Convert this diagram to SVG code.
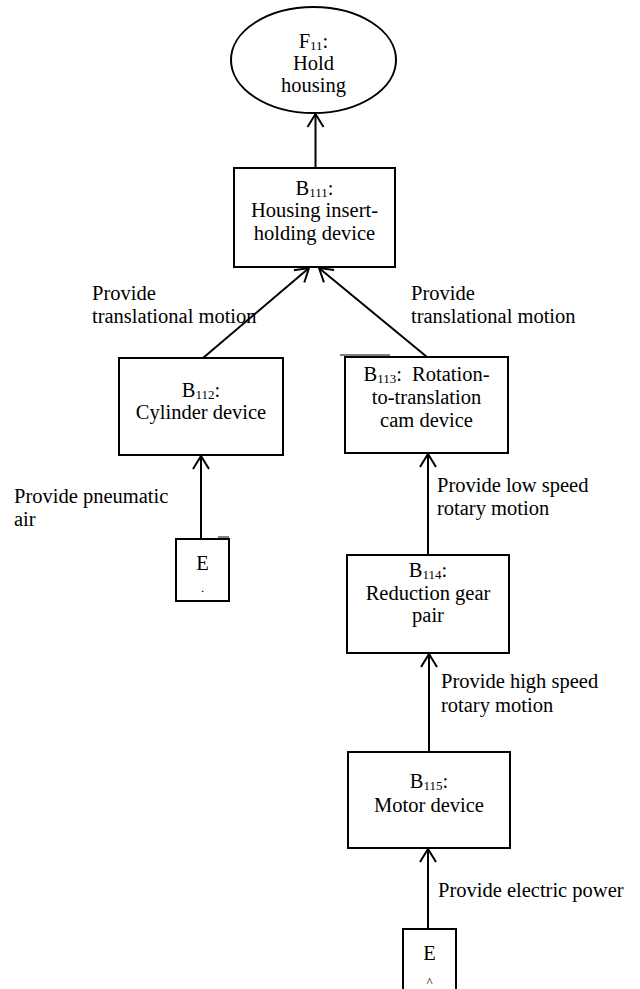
<svg xmlns="http://www.w3.org/2000/svg" width="640" height="989" viewBox="0 0 640 989" font-family="Liberation Serif, Times New Roman, DejaVu Serif, serif">
<defs>
<style>
text{font-family:'Liberation Serif','Times New Roman','DejaVu Serif',serif;font-size:20.5px;fill:#000}
.c{text-anchor:middle}
.s{font-size:13px}
.box{fill:#fff;stroke:#000;stroke-width:2}
.conn{stroke:#000;stroke-width:2;fill:none}
.art{stroke:#000;stroke-width:1;fill:none}
</style>
<marker id="ah" viewBox="-16 -10 18 20" refX="0" refY="0" markerWidth="18" markerHeight="20" markerUnits="userSpaceOnUse" orient="auto">
<path d="M-13,-8 L0,0 L-13,8" fill="none" stroke="#000" stroke-width="2" stroke-linejoin="round"/>
</marker>
</defs>
<rect width="640" height="989" fill="#fff"/>

<g id="connectors">
<line class="conn" x1="315.5" y1="168" x2="315.5" y2="114" marker-end="url(#ah)"/>
<line class="conn" x1="203" y1="358" x2="309" y2="268" marker-end="url(#ah)"/>
<line class="conn" x1="427" y1="357" x2="319" y2="268" marker-end="url(#ah)"/>
<line class="conn" x1="201" y1="539" x2="201" y2="456" marker-end="url(#ah)"/>
<line class="conn" x1="428" y1="555" x2="428" y2="454" marker-end="url(#ah)"/>
<line class="conn" x1="429" y1="752" x2="429" y2="654" marker-end="url(#ah)"/>
<line class="conn" x1="428" y1="929" x2="428" y2="849" marker-end="url(#ah)"/>
</g>

<g id="F11">
<ellipse class="box" cx="313.5" cy="60" rx="82.5" ry="53"/>
<text class="c" x="313.5" y="48">F<tspan class="s" dy="2">11</tspan><tspan dy="-2">:</tspan></text>
<text class="c" x="313.5" y="70">Hold</text>
<text class="c" x="313.5" y="92">housing</text>
</g>

<g id="B111">
<rect class="box" x="234" y="168" width="161" height="99"/>
<text class="c" x="314.5" y="195">B<tspan class="s" dy="2">111</tspan><tspan dy="-2">:</tspan></text>
<text class="c" x="314.5" y="217">Housing insert-</text>
<text class="c" x="314.5" y="240">holding device</text>
</g>

<g id="B112">
<rect class="box" x="119" y="358" width="164" height="97"/>
<text class="c" x="201" y="397">B<tspan class="s" dy="2">112</tspan><tspan dy="-2">:</tspan></text>
<text class="c" x="201" y="419">Cylinder device</text>
</g>

<g id="B113">
<line class="art" x1="340" y1="355" x2="390" y2="355"/>
<rect class="box" x="345" y="357" width="163" height="96"/>
<text class="c" x="426.5" y="381" xml:space="preserve">B<tspan class="s" dy="2">113</tspan><tspan dy="-2">:  Rotation-</tspan></text>
<text class="c" x="426.5" y="404">to-translation</text>
<text class="c" x="426.5" y="427">cam device</text>
</g>

<g id="B114">
<rect class="box" x="347" y="555" width="162" height="98"/>
<text class="c" x="428" y="577">B<tspan class="s" dy="2">114</tspan><tspan dy="-2">:</tspan></text>
<text class="c" x="428" y="600">Reduction gear</text>
<text class="c" x="428" y="622">pair</text>
</g>

<g id="B115">
<rect class="box" x="348" y="752" width="162" height="96"/>
<text class="c" x="429" y="788">B<tspan class="s" dy="2">115</tspan><tspan dy="-2">:</tspan></text>
<text class="c" x="429" y="812">Motor device</text>
</g>

<g id="E1">
<line class="art" x1="218" y1="537" x2="229" y2="537"/>
<rect class="box" x="176" y="539" width="53" height="62"/>
<text class="c" x="202.5" y="570">E</text>
<text class="c s" x="202.5" y="592">.</text>
</g>

<g id="E2">
<rect class="box" x="403" y="929" width="53" height="70"/>
<text class="c" x="429.5" y="960">E</text>
<text class="c s" x="429.5" y="986">^</text>
</g>

<g id="labels">
<text x="92" y="300">Provide</text>
<text x="92" y="323">translational motion</text>
<text x="411" y="300">Provide</text>
<text x="411" y="323">translational motion</text>
<text x="14" y="503">Provide pneumatic</text>
<text x="14" y="526">air</text>
<text x="437" y="492">Provide low speed</text>
<text x="437" y="515">rotary motion</text>
<text x="441" y="688">Provide high speed</text>
<text x="441" y="712">rotary motion</text>
<text x="438" y="897">Provide electric power</text>
</g>
</svg>
